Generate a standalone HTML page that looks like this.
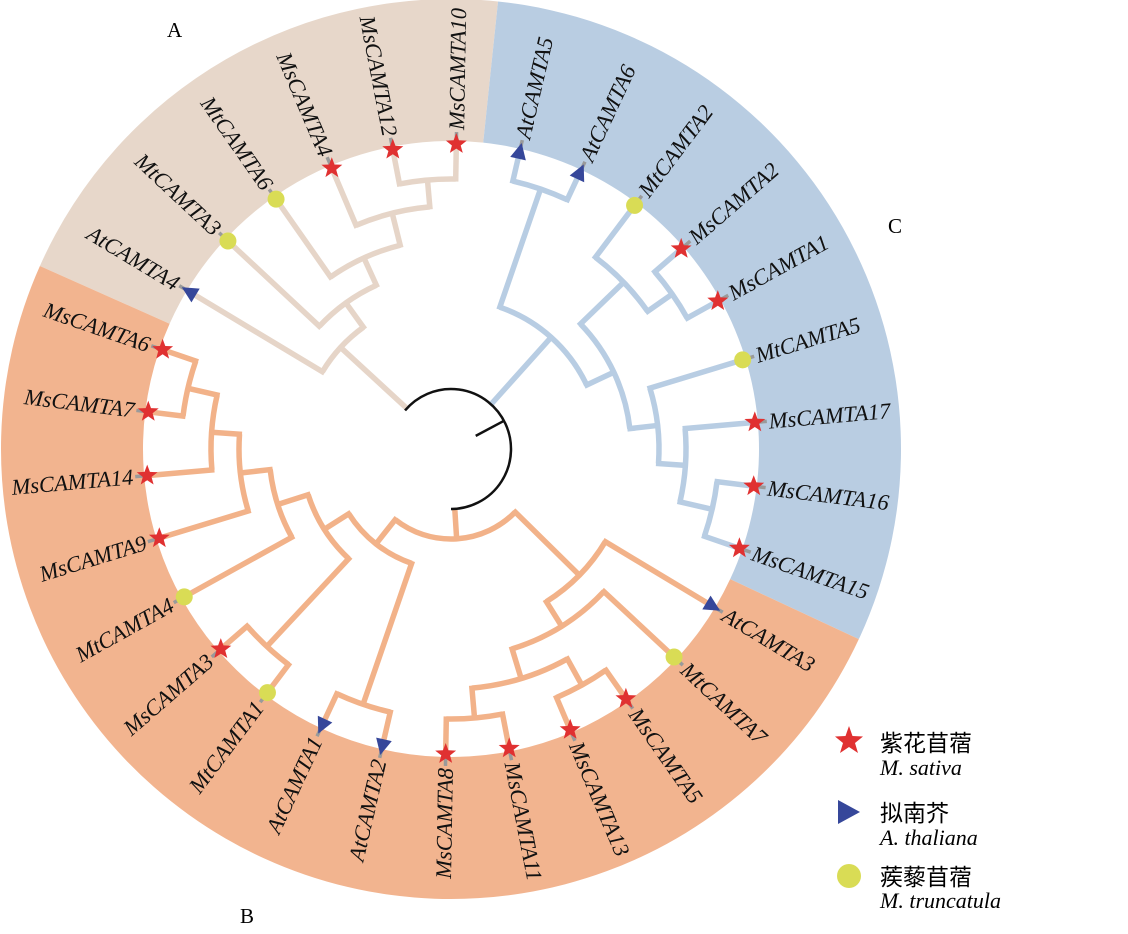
<!DOCTYPE html>
<html><head><meta charset="utf-8"><style>
html,body{margin:0;padding:0;background:#fff;}
svg{display:block;}
</style></head><body>
<svg id="s" width="1128" height="934" viewBox="0 0 1128 934" xmlns="http://www.w3.org/2000/svg">
<g id="g"></g>
<text x="167" y="37" font-family="Liberation Serif, serif" font-size="21">A</text>
<text x="240" y="923" font-family="Liberation Serif, serif" font-size="21">B</text>
<text x="888" y="233" font-family="Liberation Serif, serif" font-size="21">C</text>
<g font-family="Liberation Serif, 'Noto Serif CJK SC', serif" font-size="22">
<text x="880" y="751" font-size="23" font-family="'Noto Sans CJK SC', sans-serif">紫花苜蓿</text>
<text x="880" y="775" font-style="italic">M. sativa</text>
<text x="880" y="821" font-size="23" font-family="'Noto Sans CJK SC', sans-serif">拟南芥</text>
<text x="880" y="845" font-style="italic">A. thaliana</text>
<text x="880" y="885" font-size="23" font-family="'Noto Sans CJK SC', sans-serif">蒺藜苜蓿</text>
<text x="880" y="908" font-style="italic">M. truncatula</text>
</g>
<polygon points="849,726 852.5,736 863,736.5 855,743 858,753 849,747 840,753 843,743 835,736.5 845.5,736" fill="#e03131"/>
<polygon points="838,800 860,812 838,824" fill="#36479a"/>
<circle cx="849" cy="876" r="12" fill="#d9dc55"/>
</svg>
<script>
var cx=451,cy=449,NS="http://www.w3.org/2000/svg",G=document.getElementById('g');
function P(r,a){a=a*Math.PI/180;return [cx+r*Math.cos(a),cy+r*Math.sin(a)];}
function add(tag,at,txt){var e=document.createElementNS(NS,tag);for(var k in at)e.setAttribute(k,at[k]);if(txt)e.textContent=txt;G.appendChild(e);return e;}
function sector(a1,a2,r1,r2,col){var p1=P(r2,a1),p2=P(r2,a2),p3=P(r1,a2),p4=P(r1,a1);var lg=(a2-a1)>180?1:0;
add('path',{d:'M'+p1+' A'+r2+' '+r2+' 0 '+lg+' 1 '+p2+' L'+p3+' A'+r1+' '+r1+' 0 '+lg+' 0 '+p4+'Z',fill:col});}
sector(204,276,308,450,'#e7d7ca');
sector(276,385,308,450,'#b9cde2');
sector(25,204,308,450,'#f2b48f');
function arc(r,a1,a2,col,w){var p1=P(r,a1),p2=P(r,a2);var lg=(a2-a1)>180?1:0;add('path',{d:'M'+p1+' A'+r+' '+r+' 0 '+lg+' 1 '+p2,fill:'none',stroke:col,'stroke-width':w||5.5});}
function line(r1,r2,a,col,w){var p1=P(r1,a),p2=P(r2,a);add('line',{x1:p1[0],y1:p1[1],x2:p2[0],y2:p2[1],stroke:col,'stroke-width':w||5.5});}
var LR=305;
function L(a,n,t){return {leaf:1,a:a,n:n,t:t,r:LR};}
function N(r,ch){var n={r:r,ch:ch};n.a=(ch[0].a+ch[ch.length-1].a)/2;return n;}
var leaves=[];
function draw(n,col){
 if(n.leaf){leaves.push(n);return;}
 var mn=1e9,mx=-1e9;n.ch.forEach(function(c){mn=Math.min(mn,c.a);mx=Math.max(mx,c.a);});
 arc(n.r,mn,mx,col);
 n.ch.forEach(function(c){line(n.r-2.5,c.r,c.a,col);draw(c,col);});
}
var A=N(150,[L(211,'AtCAMTA4','t'),N(180,[L(223,'MtCAMTA3','c'),N(210,[L(235,'MtCAMTA6','c'),N(243,[L(247,'MsCAMTA4','s'),N(270,[L(259,'MsCAMTA12','s'),L(271,'MsCAMTA10','s')])])])])]);
var C=N(150,[N(275,[L(283,'AtCAMTA5','t'),L(295,'AtCAMTA6','t')]),N(180,[N(240,[L(307,'MtCAMTA2','c'),N(270,[L(319,'MsCAMTA2','s'),L(331,'MsCAMTA1','s')])]),N(208,[L(343,'MtCAMTA5','c'),N(235,[L(355,'MsCAMTA17','s'),N(268,[L(367,'MsCAMTA16','s'),L(379,'MsCAMTA15','s')])])])])]);
var B=N(90,[N(180,[L(31,'AtCAMTA3','t'),N(209,[L(43,'MtCAMTA7','c'),N(240,[N(270,[L(55,'MsCAMTA5','s'),L(67,'MsCAMTA13','s')]),N(270,[L(79,'MsCAMTA11','s'),L(91,'MsCAMTA8','s')])])])]),
 N(121,[N(270,[L(103,'AtCAMTA2','t'),L(115,'AtCAMTA1','t')]),N(150,[N(270,[L(127,'MtCAMTA1','c'),L(139,'MsCAMTA3','s')]),N(182,[L(151,'MtCAMTA4','c'),N(212,[L(163,'MsCAMTA9','s'),N(240,[L(175,'MsCAMTA14','s'),N(270,[L(187,'MsCAMTA7','s'),L(199,'MsCAMTA6','s')])])])])])])]);
var cA='#e6d5c8',cC='#b8cde3',cB='#f2b289';
line(60,A.r,A.a,cA);line(60,C.r,C.a,cC);line(60,B.r,B.a,cB);
draw(A,cA);draw(C,cC);draw(B,cB);
arc(60,220,450,'#111',2.5);
line(28,60,332,'#111',2.5);
leaves.forEach(function(l){
 line(LR,317,l.a,'#9a9a9a',3.5);
 var p=P(LR,l.a),x=p[0],y=p[1];
 if(l.t=='s'){var pts=[];for(var i=0;i<10;i++){var rr=i%2?4.6:11,an=(-90+i*36)*Math.PI/180;pts.push((x+rr*Math.cos(an)).toFixed(1)+','+(y+rr*Math.sin(an)).toFixed(1));}
  add('polygon',{points:pts.join(' '),fill:'#e03131'});}
 else if(l.t=='c'){add('circle',{cx:x,cy:y,r:8.5,fill:'#d9dc55'});}
 else{var a=l.a*Math.PI/180,ux=Math.cos(a),uy=Math.sin(a);var tip=[x+ux*9,y+uy*9],b=[x-ux*7,y-uy*7];
  add('polygon',{points:tip+' '+(b[0]-uy*8)+','+(b[1]+ux*8)+' '+(b[0]+uy*8)+','+(b[1]-ux*8),fill:'#36479a'});}
 var am=((l.a%360)+360)%360,q=P(319,l.a),flip=(am>90&&am<270);
 add('text',{x:q[0],y:q[1],transform:'rotate('+(flip?am+180:am)+' '+q[0]+' '+q[1]+')','text-anchor':flip?'end':'start','dominant-baseline':'central','font-family':'Liberation Serif, serif','font-style':'italic','font-size':'22.5',fill:'#111'},l.n);
});
</script>
</body></html>
